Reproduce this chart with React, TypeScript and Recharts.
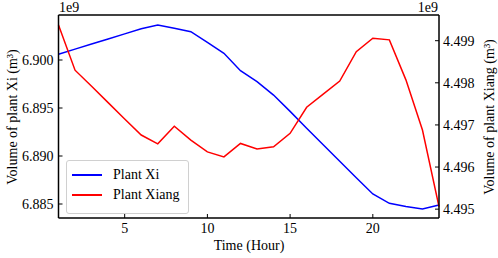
import React from "react";
import {
  LineChart,
  Line,
  XAxis,
  YAxis,
  Legend,
  ReferenceLine,
} from "recharts";

// values in units of 1e9 m³ (matplotlib offset "1e9")
const hours = [1, 2, 3, 4, 5, 6, 7, 8, 9, 10, 11, 12, 13, 14, 15, 16, 17, 18, 19, 20, 21, 22, 23, 24];
const xiVolume = [
  6.90059, 6.90113, 6.90166, 6.90219, 6.90272, 6.90326, 6.90365, 6.9033,
  6.90295, 6.90184, 6.9007, 6.89889, 6.89774, 6.89635, 6.89465, 6.89289,
  6.89117, 6.88945, 6.88774, 6.88604, 6.88507, 6.88474, 6.88448, 6.8849,
];
const xiangVolume = [
  4.49937, 4.4983, 4.49792, 4.49753, 4.49714, 4.49676, 4.49655, 4.49697,
  4.49664, 4.49636, 4.49624, 4.49656, 4.49643, 4.49648, 4.4968, 4.49742,
  4.49773, 4.49804, 4.49874, 4.49906, 4.49902, 4.49807, 4.49688, 4.49506,
];
const xTicks = [5, 10, 15, 20];
const xiTicks = [6.885, 6.89, 6.895, 6.9];
const xiangTicks = [4.495, 4.496, 4.497, 4.498, 4.499];
const xiDomain = [6.883542, 6.904688];
const xiangDomain = [4.49479, 4.49961];

const FONT = "'Liberation Serif', 'Times New Roman', serif";

const data = hours.map((h, i) => ({
  hour: h,
  xi: xiVolume[i],
  xiang: xiangVolume[i],
}));

const tickStyle = { fontFamily: FONT, fontSize: 14, fill: "#000" };
const axisLine = { stroke: "#000", strokeWidth: 1.5 };

function LegendBox() {
  const items = [
    { name: "Plant Xi", color: "#0000ff" },
    { name: "Plant Xiang", color: "#ff0000" },
  ];
  return (
    <div
      style={{
        border: "1px solid #d0d0d0",
        borderRadius: 3,
        background: "rgba(255,255,255,0.8)",
        width: 121,
        height: 48,
        boxSizing: "content-box",
        fontFamily: FONT,
        fontSize: 14,
        paddingTop: 4,
      }}
    >
      {items.map((it) => (
        <div
          key={it.name}
          style={{ display: "flex", alignItems: "center", height: 20 }}
        >
          <div
            style={{
              marginLeft: 5,
              width: 30,
              height: 0,
              borderTop: `2px solid ${it.color}`,
            }}
          />
          <span style={{ marginLeft: 11, lineHeight: "20px" }}>{it.name}</span>
        </div>
      ))}
    </div>
  );
}

export default function App() {
  return (
    <div style={{ position: "absolute", left: 0, top: 0, background: "#fff" }}>
      <LineChart
        width={498}
        height={258}
        data={data}
        margin={{ top: 15, right: 0, bottom: 0, left: 0 }}
      >
        <XAxis
          dataKey="hour"
          type="number"
          domain={[1, 24]}
          ticks={xTicks}
          height={40}
          tickSize={-4}
          tickMargin={9}
          tick={tickStyle}
          tickLine={{ stroke: "#000" }}
          axisLine={axisLine}
          label={{
            content: () => (
              <g style={{ fontFamily: FONT }} fill="#000">
                <text x={249} y={250} textAnchor="middle" fontSize={14}>
                  Time (Hour)
                </text>
                <text x={59} y={12} fontSize={14}>1e9</text>
                <text x={438} y={12} fontSize={14} textAnchor="end">1e9</text>
              </g>
            ),
          }}
        />
        <YAxis
          yAxisId="xi"
          orientation="left"
          type="number"
          domain={xiDomain}
          ticks={xiTicks}
          width={58.5}
          tickSize={-4}
          tickMargin={9}
          tick={tickStyle}
          tickLine={{ stroke: "#000" }}
          axisLine={axisLine}
          tickFormatter={(v: number) => v.toFixed(3)}
          label={{
            content: () => (
              <text
                x={12}
                y={117}
                transform="rotate(-90 12 117)"
                textAnchor="middle"
                dominantBaseline="central"
                style={{ fontFamily: FONT, fontSize: 14 }}
                fill="#000"
              >
                Volume of plant Xi (m³)
              </text>
            ),
          }}
        />
        <YAxis
          yAxisId="xiang"
          orientation="right"
          type="number"
          domain={xiangDomain}
          ticks={xiangTicks}
          width={59}
          tickSize={-4}
          tickMargin={8}
          tick={tickStyle}
          tickLine={{ stroke: "#000" }}
          axisLine={axisLine}
          tickFormatter={(v: number) => v.toFixed(3)}
          label={{
            content: () => (
              <text
                x={489}
                y={117}
                transform="rotate(-90 489 117)"
                textAnchor="middle"
                dominantBaseline="central"
                style={{ fontFamily: FONT, fontSize: 14 }}
                fill="#000"
              >
                Volume of plant Xiang (m³)
              </text>
            ),
          }}
        />
        <ReferenceLine
          yAxisId="xi"
          y={xiDomain[1]}
          stroke="#000"
          strokeWidth={1.5}
        />
        <Line
          yAxisId="xi"
          dataKey="xi"
          name="Plant Xi"
          stroke="#0000ff"
          strokeWidth={1.5}
          dot={false}
          type="linear"
          isAnimationActive={false}
        />
        <Line
          yAxisId="xiang"
          dataKey="xiang"
          name="Plant Xiang"
          stroke="#ff0000"
          strokeWidth={1.5}
          dot={false}
          type="linear"
          isAnimationActive={false}
        />
        <Legend
          layout="vertical"
          align="center"
          verticalAlign="middle"
          content={() => <LegendBox />}
          wrapperStyle={{ left: 66, top: 160, width: 123, height: 52 }}
        />
      </LineChart>
    </div>
  );
}
